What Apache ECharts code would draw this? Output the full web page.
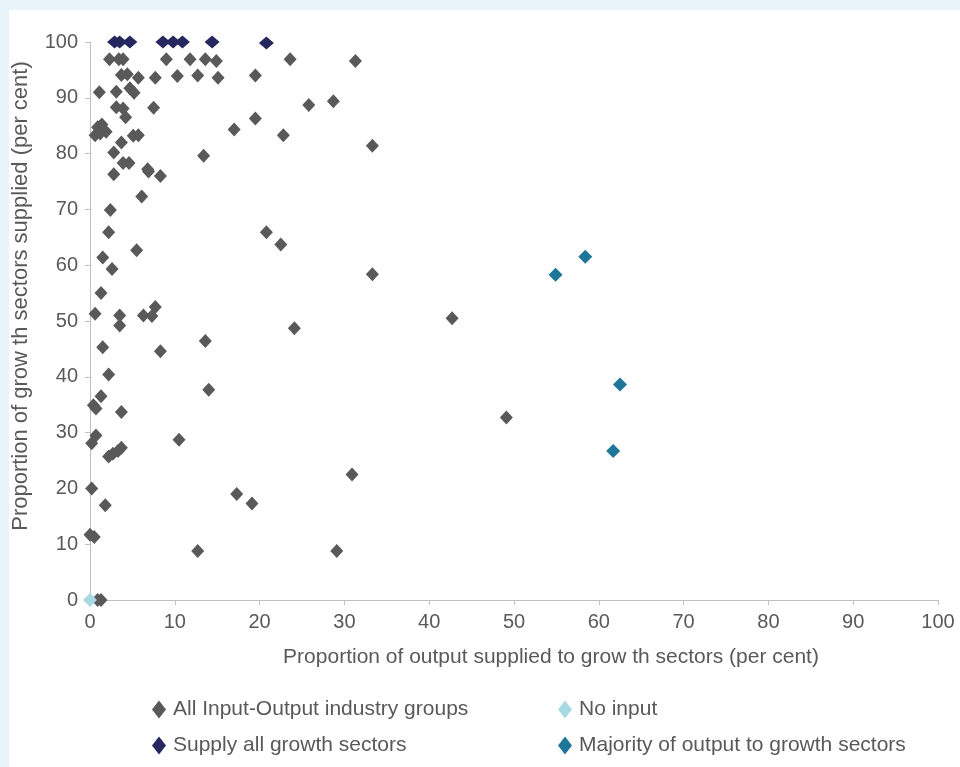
<!DOCTYPE html>
<html>
<head>
<meta charset="utf-8">
<script src="https://cdn.jsdelivr.net/npm/echarts@6/dist/echarts.min.js"></script>
<style>
html,body{margin:0;padding:0;background:#e8f4f9;}
#chart{width:960px;height:767px;}
</style>
</head>
<body>
<div id="chart"></div>
<script>
// Series names
const seriesNames = ['All Input-Output industry groups', 'No input', 'Supply all growth sectors', 'Majority of output to growth sectors'];
// x axis tick labels / y axis tick labels (0..100 step 10)
const xTicks = [0,10,20,30,40,50,60,70,80,90,100];
const yTicks = [0,10,20,30,40,50,60,70,80,90,100];

// [output share to growth sectors, share of growth sectors supplied]
const allGroups = [
  [2.3,96.9],[3.4,96.9],[3.9,96.9],[9.0,96.9],[11.8,96.9],[13.6,96.9],[14.9,96.6],[23.6,96.9],[31.3,96.6],
  [3.7,94.1],[4.4,94.2],[5.7,93.6],[7.7,93.6],[10.3,93.9],[12.7,94.0],[15.1,93.6],[19.5,94.0],
  [1.1,91.0],[3.1,91.1],[4.7,91.7],[5.2,90.9],[25.8,88.7],[28.7,89.4],
  [3.1,88.3],[3.9,88.1],[4.2,86.5],[7.5,88.2],[19.5,86.3],
  [0.9,84.7],[1.4,85.2],[0.6,83.3],[1.9,83.9],[1.2,83.6],[5.1,83.2],[5.7,83.3],
  [17.0,84.3],[22.8,83.3],[33.3,81.4],
  [3.7,82.0],[2.8,80.2],[13.4,79.6],[3.9,78.3],[4.6,78.3],[2.8,76.3],[6.8,77.2],[6.9,76.8],[8.3,76.0],
  [6.1,72.3],[2.4,69.9],[2.2,65.9],[20.8,65.9],[22.5,63.7],[5.5,62.7],[1.5,61.4],[2.6,59.3],[33.3,58.4],
  [1.3,55.0],[0.6,51.3],[3.5,51.0],[3.5,49.2],[6.3,51.0],[7.3,50.9],[7.7,52.5],[24.1,48.7],[42.7,50.5],
  [1.5,45.3],[13.6,46.4],[8.3,44.6],[2.2,40.4],[14.0,37.7],[1.3,36.5],
  [0.4,34.9],[0.7,34.3],[3.7,33.7],[10.5,28.7],[0.7,29.5],[0.2,28.1],[49.1,32.7],
  [2.2,25.7],[2.7,26.2],[3.3,26.7],[3.7,27.3],[30.9,22.5],[0.2,20.0],[1.8,17.0],[17.3,19.0],[19.1,17.3],
  [0.0,11.7],[0.5,11.3],[12.7,8.8],[29.1,8.8],[0.9,0.0],[1.3,0.0]
];
const noInput = [[0,0]];
const supplyAll = [[2.9,100],[3.5,100],[4.7,100],[8.6,100],[9.8,100],[10.9,100],[14.4,100],[20.8,99.8]];
const majority = [[54.9,58.3],[58.4,61.5],[62.5,38.6],[61.7,26.7]];

const colors = ['#595959', '#a9d9e2', '#27275f', '#1e7698'];
const textColor = '#595959';
const axisColor = '#bfbfbf';

const chart = echarts.init(document.getElementById('chart'));
const legendCommon = {
  orient: 'vertical', top: 694, itemGap: 15,
  icon: 'diamond', itemWidth: 14, itemHeight: 18,
  textStyle: { color: textColor, fontSize: 21, padding: [0, 0, 0, 2] }
};
chart.setOption({
  backgroundColor: '#e8f4f9',
  animation: false,
  textStyle: { fontFamily: 'Liberation Sans, Arial, sans-serif' },
  graphic: [{
    type: 'rect', z: -10, silent: true,
    shape: { x: 9, y: 10, width: 951, height: 757 },
    style: { fill: '#ffffff' }
  }],
  grid: { left: 90, right: 22, top: 42, bottom: 167, containLabel: false, outerBoundsMode: 'none' },
  xAxis: {
    type: 'value', min: 0, max: 100, interval: 10,
    name: 'Proportion of output supplied to grow th sectors (per cent)',
    nameLocation: 'middle', nameGap: 47,
    nameTextStyle: { color: textColor, fontSize: 21, padding: [0, 0, 0, 74] },
    axisLine: { show: true, lineStyle: { color: axisColor, width: 1 } },
    axisTick: { show: true, length: 5, lineStyle: { color: axisColor } },
    axisLabel: { color: textColor, fontSize: 20, margin: 12,
      formatter: v => xTicks.includes(v) ? String(v) : '' },
    splitLine: { show: false }
  },
  yAxis: {
    type: 'value', min: 0, max: 100, interval: 10,
    name: 'Proportion of grow th sectors supplied (per cent)',
    nameLocation: 'middle', nameGap: 58,
    nameTextStyle: { color: textColor, fontSize: 22, padding: [0, 0, 0, 50] },
    axisLine: { show: true, lineStyle: { color: axisColor, width: 1 } },
    axisTick: { show: true, length: 5, lineStyle: { color: axisColor } },
    axisLabel: { color: textColor, fontSize: 20, margin: 12,
      formatter: v => yTicks.includes(v) ? String(v) : '' },
    splitLine: { show: false }
  },
  legend: [
    Object.assign({}, legendCommon, { left: 147, data: [seriesNames[0], seriesNames[2]] }),
    Object.assign({}, legendCommon, { left: 553, data: [seriesNames[1], seriesNames[3]] })
  ],
  series: [
    { name: seriesNames[0], type: 'scatter', symbol: 'diamond', symbolSize: [13, 14],
      itemStyle: { color: colors[0], opacity: 1 }, data: allGroups, z: 2 },
    { name: seriesNames[1], type: 'scatter', symbol: 'diamond', symbolSize: [14, 14],
      itemStyle: { color: colors[1], opacity: 1 }, data: noInput, z: 4 },
    { name: seriesNames[2], type: 'scatter', symbol: 'diamond', symbolSize: [15, 13],
      itemStyle: { color: colors[2], opacity: 1 }, data: supplyAll, z: 3 },
    { name: seriesNames[3], type: 'scatter', symbol: 'diamond', symbolSize: [14, 14],
      itemStyle: { color: colors[3], opacity: 1 }, data: majority, z: 3 }
  ]
});
</script>
</body>
</html>
